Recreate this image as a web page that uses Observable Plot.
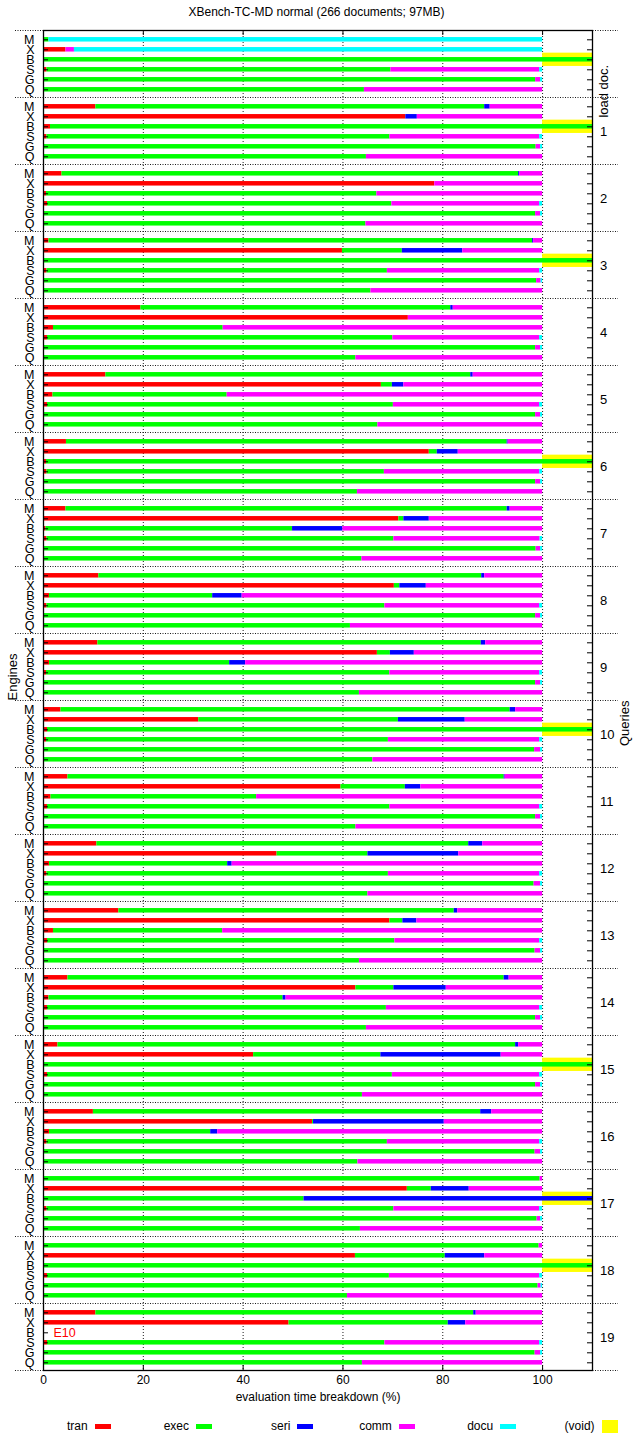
<!DOCTYPE html>
<html><head><meta charset="utf-8">
<script src="https://cdn.jsdelivr.net/npm/d3@7"></script>
<script src="https://cdn.jsdelivr.net/npm/@observablehq/plot@0.6"></script>
<style>
body{margin:0;background:#fff;font-family:"Liberation Sans",Arial,sans-serif;}
#title{height:24px;line-height:24px;text-align:center;font-size:12px;color:#000;}
#chart svg{display:block;}
#legend{position:relative;height:27px;font-size:12px;color:#000;}
#legend .t{position:absolute;top:0;height:32px;line-height:32px;text-align:right;width:60px;}
#legend .s{position:absolute;}
</style></head><body>
<div id="title">XBench-TC-MD normal (266 documents; 97MB)</div>
<div id="chart"></div>
<div id="legend"></div>
<script>
const groups = ["load doc.","1","2","3","4","5","6","7","8","9","10","11","12","13","14","15","16","17","18","19"];
const engines = ["M","X","B","S","G","Q"];
const seriesNames = ["tran","exec","seri","comm","docu"];
const seriesColors = ["#ff0000","#00ff00","#0000ff","#ff00ff","#00ffff"];
const voidLabel = "(void)";
const voidColor = "#ffff00";
const xTicks = [0,20,40,60,80,100];

// values per group, engines in order M X B S G Q (percent of evaluation time)
const tran = [
  0, 4.5, 0, 0.7, 0, 0,
  10.5, 72.6, 1.4, 0.7, 0, 0,
  3.7, 78.4, 0.6, 0.8, 0, 0,
  1.1, 59.9, 0.2, 0.7, 0, 0,
  19.5, 73.1, 2.0, 0.8, 0, 0,
  12.5, 67.7, 1.9, 0.8, 0, 0,
  4.6, 77.3, 0.6, 0.7, 0, 0,
  4.5, 71.2, 0.5, 0.7, 0, 0,
  11.1, 70.3, 1.2, 0.7, 0, 0,
  10.9, 66.9, 1.2, 0.6, 0, 0,
  3.5, 31.1, 0.8, 0.6, 0, 0,
  4.9, 59.6, 1.5, 0.8, 0, 0,
  10.7, 46.8, 1.2, 0.7, 0, 0,
  15.1, 69.4, 2.0, 0.8, 0, 0,
  4.9, 62.6, 1.1, 0.8, 0, 0,
  2.9, 42.1, 0.2, 0.8, 0, 0,
  10.0, 53.9, 1.2, 0.7, 0, 0,
  0.2, 72.9, 0.2, 0.7, 0, 0,
  0.2, 62.5, 0.2, 0.8, 0, 0,
  10.5, 49.2, null, 0.8, 0, 0
];
const exec = [
  1.1, 0, 100, 68.9, 98.6, 64.3,
  77.9, 0, 98.6, 68.7, 98.7, 64.7,
  91.5, 0, 66.2, 69.0, 98.6, 64.6,
  96.9, 12.0, 99.8, 68.2, 98.8, 65.6,
  62.1, 0, 34.0, 69.2, 98.6, 62.6,
  73.1, 2.2, 34.9, 69.3, 98.6, 67.0,
  88.3, 1.6, 99.4, 67.6, 98.6, 62.9,
  88.4, 1.0, 49.4, 69.5, 98.7, 63.8,
  76.7, 1.1, 32.7, 67.7, 98.6, 61.5,
  76.8, 2.6, 36.1, 68.8, 98.6, 63.3,
  90.0, 40.0, 99.2, 68.5, 98.4, 66.0,
  87.4, 12.9, 41.2, 68.6, 98.6, 62.6,
  74.5, 18.2, 35.7, 68.4, 98.3, 65.0,
  67.2, 2.6, 33.9, 69.6, 98.5, 63.3,
  87.4, 7.6, 46.9, 67.9, 98.6, 64.7,
  91.7, 25.5, 99.8, 69.1, 98.6, 63.9,
  77.6, 0.2, 32.3, 68.2, 98.5, 63.0,
  99.3, 4.8, 52.0, 69.5, 98.9, 63.5,
  99.1, 18.0, 99.8, 68.5, 99.1, 60.9,
  75.7, 31.9, null, 67.6, 98.5, 63.9
];
const seri = [
  0, 0, 0, 0, 0, 0,
  1.1, 2.3, 0, 0, 0, 0,
  0.2, 0, 0, 0, 0, 0,
  0.2, 12.1, 0, 0, 0, 0,
  0.5, 0, 0, 0, 0, 0,
  0.5, 2.3, 0, 0, 0, 0,
  0.2, 4.2, 0, 0, 0, 0,
  0.6, 5.1, 10.1, 0, 0, 0,
  0.6, 5.3, 5.9, 0, 0, 0,
  0.9, 4.8, 3.2, 0, 0, 0,
  1.1, 13.4, 0, 0, 0, 0,
  0.2, 3.1, 0, 0, 0, 0,
  2.8, 18.2, 0.9, 0, 0, 0,
  0.7, 2.8, 0, 0, 0, 0,
  1.0, 10.5, 0.6, 0, 0, 0,
  0.6, 24.1, 0, 0, 0, 0,
  2.2, 26.2, 1.4, 0, 0, 0,
  0, 7.6, 47.8, 0, 0, 0,
  0, 7.9, 0, 0, 0, 0,
  0.5, 3.5, null, 0, 0, 0
];
const comm = [
  0, 1.7, 0, 29.8, 1.0, 35.7,
  10.5, 25.1, 0, 30.0, 0.9, 35.3,
  4.6, 21.6, 33.2, 29.6, 1.0, 35.4,
  1.8, 16.0, 0, 30.5, 0.9, 34.4,
  17.9, 26.9, 64.0, 29.4, 1.0, 37.4,
  13.9, 27.8, 63.2, 29.3, 1.0, 33.0,
  6.9, 16.9, 0, 31.1, 1.0, 37.1,
  6.5, 22.7, 40.0, 29.3, 0.9, 36.2,
  11.6, 23.3, 60.2, 31.0, 1.0, 38.5,
  11.4, 25.7, 59.5, 30.0, 1.0, 36.7,
  5.4, 15.5, 0, 30.3, 1.2, 34.0,
  7.5, 24.4, 57.3, 30.0, 1.0, 37.4,
  12.0, 16.8, 62.2, 30.3, 1.3, 35.0,
  17.0, 25.2, 64.1, 29.0, 1.1, 36.7,
  6.7, 19.3, 51.4, 30.7, 1.0, 35.3,
  4.8, 8.3, 0, 29.5, 1.0, 36.1,
  10.2, 19.7, 65.1, 30.5, 1.1, 37.0,
  0.5, 14.7, 0, 29.2, 0.7, 36.5,
  0.7, 11.6, 0, 30.1, 0.6, 39.1,
  13.3, 15.4, null, 31.0, 1.1, 36.1
];
const docu = [
  98.9, 93.8, 0, 0.6, 0.4, 0,
  0, 0, 0, 0.6, 0.4, 0,
  0, 0, 0, 0.6, 0.4, 0,
  0, 0, 0, 0.6, 0.3, 0,
  0, 0, 0, 0.6, 0.4, 0,
  0, 0, 0, 0.6, 0.4, 0,
  0, 0, 0, 0.6, 0.4, 0,
  0, 0, 0, 0.5, 0.4, 0,
  0, 0, 0, 0.6, 0.4, 0,
  0, 0, 0, 0.6, 0.4, 0,
  0, 0, 0, 0.6, 0.4, 0,
  0, 0, 0, 0.6, 0.4, 0,
  0, 0, 0, 0.6, 0.4, 0,
  0, 0, 0, 0.6, 0.4, 0,
  0, 0, 0, 0.6, 0.4, 0,
  0, 0, 0, 0.6, 0.4, 0,
  0, 0, 0, 0.6, 0.4, 0,
  0, 0, 0, 0.6, 0.4, 0,
  0, 0, 0, 0.6, 0.3, 0,
  0, 0, null, 0.6, 0.4, 0
];
// rows where the engine produced no result document (void)
const voidRows = [["load doc.","B"],["1","B"],["3","B"],["6","B"],["10","B"],["15","B"],["17","B"],["18","B"]];
// rows that failed with an error code
const errorRows = [["19","B","E10"]];

const seriesData = [tran, exec, seri, comm, docu];
const X_MAX = 110;
const GROUP = 6.7, LEAD = 0.93;      // layout units: 1 unit = one bar slot
const Y_MAX = groups.length * GROUP;
const BAR_H = 0.225, VOID_H = 0.665, TICK = 1;

const rows = [], segs = [], voids = [], errs = [];
groups.forEach((g, gi) => engines.forEach((e, ri) => {
  const i = gi * engines.length + ri;
  const pos = gi * GROUP + LEAD + ri;
  rows.push({group: g, engine: e, pos});
  const err = errorRows.find(d => d[0] === g && d[1] === e);
  if (err) { errs.push({pos, text: err[2]}); return; }
  const vals = seriesData.map(a => a[i]);
  let acc = 0, last = -1;
  vals.forEach((v, k) => {
    if (v > 0) { segs.push({series: seriesNames[k], x1: acc, x2: acc + v, pos}); acc += v; last = segs.length - 1; }
  });
  if (voidRows.some(d => d[0] === g && d[1] === e)) {
    segs[last].x2 = X_MAX;
    voids.push({pos, x1: 100, x2: X_MAX});
  }
}));
const groupCenters = groups.map((g, gi) => ({group: g, pos: gi * GROUP + LEAD + (engines.length - 1) / 2}));
const separators = d3.range(groups.length + 1).map(k => k * GROUP);

const F = "Liberation Sans, Arial, sans-serif";
const chart = Plot.plot({
  width: 633, height: 1386,
  marginTop: 6, marginBottom: 40, marginLeft: 43, marginRight: 41,
  style: {fontFamily: F, fontSize: "12px", background: "#fff", color: "#000", overflow: "visible"},
  x: {domain: [0, X_MAX], axis: null},
  y: {domain: [0, Y_MAX], reverse: true, axis: null},
  color: {domain: seriesNames, range: seriesColors},
  marks: [
    Plot.ruleX(xTicks.filter(d => d > 0), {x: d => d, stroke: "#000", strokeWidth: 0.9, strokeDasharray: "1,2"}),
    Plot.ruleY(separators, {y: d => d, stroke: "#000", strokeWidth: 0.9, strokeDasharray: "1,1.5", insetLeft: -28, insetRight: -26}),
    Plot.rect(voids, {x1: "x1", x2: "x2", y1: d => d.pos - VOID_H, y2: d => d.pos + VOID_H, fill: voidColor}),
    Plot.rect(segs, {x1: "x1", x2: "x2", y1: d => d.pos - BAR_H, y2: d => d.pos + BAR_H, fill: "series"}),
    Plot.ruleY(rows, {y: "pos", x1: 0, x2: TICK, stroke: "#000", strokeWidth: 1}),
    Plot.ruleY(rows, {y: "pos", x1: X_MAX - TICK, x2: X_MAX, stroke: "#000", strokeWidth: 1}),
    Plot.ruleX(xTicks, {x: d => d, y1: 0, y2: 0.5, stroke: "#000"}),
    Plot.ruleX(xTicks, {x: d => d, y1: Y_MAX, y2: Y_MAX - 0.5, stroke: "#000"}),
    Plot.frame({stroke: "#000", strokeWidth: 1.3}),
    Plot.text(rows, {y: "pos", text: "engine", frameAnchor: "left", dx: -9, textAnchor: "end", fontSize: 12.5, fill: "#000"}),
    Plot.text(groupCenters.slice(1), {y: "pos", text: "group", frameAnchor: "right", dx: 7.5, textAnchor: "start", fontSize: 13, fill: "#000"}),
    Plot.text(groupCenters.slice(0, 1), {y: "pos", text: "group", frameAnchor: "right", dx: 11, rotate: -90, fontSize: 13, fill: "#000"}),
    Plot.text(errs, {y: "pos", text: "text", frameAnchor: "left", dx: 10, textAnchor: "start", fontSize: 12.5, fill: "#ff0000"}),
    Plot.text(xTicks, {x: d => d, text: d => String(d), frameAnchor: "bottom", dy: 13, fontSize: 12, fill: "#000"}),
    Plot.text(["evaluation time breakdown (%)"], {text: d => d, frameAnchor: "bottom", dy: 30, fontSize: 12, fill: "#000"}),
    Plot.text(["Engines"], {text: d => d, frameAnchor: "left", dx: -31, rotate: -90, fontSize: 13, fill: "#000"}),
    Plot.text(["Queries"], {text: d => d, frameAnchor: "right", dx: 32, rotate: -90, fontSize: 13, fill: "#000"})
  ]
});
document.getElementById("chart").appendChild(chart);

// legend below the chart
const legend = document.getElementById("legend");
const legendItems = seriesNames.map((s, k) => ({label: s, color: seriesColors[k], box: false}))
  .concat([{label: voidLabel, color: voidColor, box: true}]);
legendItems.forEach((it, k) => {
  const left = 94.6 + k * 101.4;
  const t = document.createElement("div");
  t.className = "t"; t.textContent = it.label;
  t.style.left = (left - 7 - 60) + "px";
  t.style.top = "0px";
  legend.appendChild(t);
  const s = document.createElement("div");
  s.className = "s";
  s.style.left = left + "px";
  s.style.width = "16px";
  s.style.background = it.color;
  if (it.box) { s.style.top = "9.5px"; s.style.height = "13.5px"; }
  else { s.style.top = "14px"; s.style.height = "4.5px"; }
  legend.appendChild(s);
});
</script>
</body></html>
